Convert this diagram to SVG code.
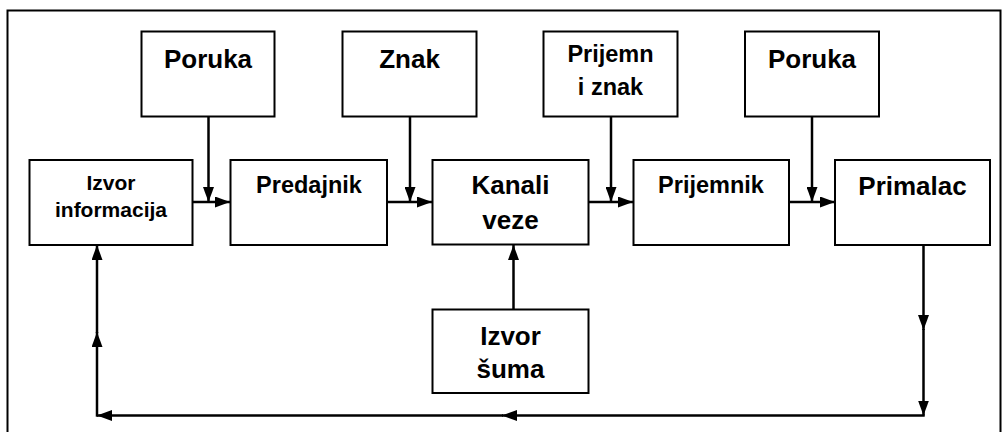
<svg xmlns="http://www.w3.org/2000/svg" width="1002" height="432" viewBox="0 0 1002 432">
<style>
.box{fill:#fff;stroke:#000;stroke-width:2}
.t{font-family:"Liberation Sans",Arial,sans-serif;font-weight:bold;fill:#000;text-anchor:middle}
.l{font-size:26px}
.m{font-size:23.5px}
.s{font-size:21px}
.c{fill:none;stroke:#000;stroke-width:2.5;marker-end:url(#ah)}
</style>
<defs>
<marker id="ah" viewBox="0 0 15 11" refX="15" refY="5.5" markerWidth="15" markerHeight="11" markerUnits="userSpaceOnUse" orient="auto">
<path d="M0,0 L15,5.5 L0,11 z" fill="#000"/>
</marker>
</defs>
<rect x="7.5" y="10.5" width="993" height="430" fill="#fff" stroke="#000" stroke-width="2"/>
<g id="connectors">
<path class="c" d="M185,202 H230"/>
<path class="c" d="M208.5,116.5 V202"/>
<path class="c" d="M387,202 H432"/>
<path class="c" d="M410,116.5 V202"/>
<path class="c" d="M588,202 H633"/>
<path class="c" d="M611,116.5 V202"/>
<path class="c" d="M788,202 H835"/>
<path class="c" d="M812,116.5 V202"/>
<path class="c" d="M513.5,309.5 V245"/>
<path class="c" d="M923.5,245 V330"/>
<path class="c" d="M923.5,329 V415.5"/>
<path class="c" d="M924.7,415.5 H502"/>
<path class="c" d="M503,415.5 H97"/>
<path class="c" d="M97,416.7 V332"/>
<path class="c" d="M97,333 V245"/>
</g>
<g id="poruka1"><rect class="box" x="141.5" y="31.5" width="133" height="85"/><text class="t l" x="208" y="68">Poruka</text></g>
<g id="znak"><rect class="box" x="342.5" y="31.5" width="134" height="85"/><text class="t l" x="409.5" y="68">Znak</text></g>
<g id="prijemni-znak"><rect class="box" x="543.5" y="31.5" width="134" height="85"/><text class="t m" x="610.5" y="62">Prijemn</text><text class="t m" x="610.5" y="95">i znak</text></g>
<g id="poruka2"><rect class="box" x="745" y="31.5" width="134" height="85"/><text class="t l" x="812" y="68">Poruka</text></g>
<g id="izvor-informacija"><rect class="box" x="29.5" y="160" width="163" height="85"/><text class="t s" x="111" y="190">Izvor</text><text class="t s" x="111" y="217">informacija</text></g>
<g id="predajnik"><rect class="box" x="230.5" y="160" width="156.5" height="85"/><text class="t m" x="309" y="193">Predajnik</text></g>
<g id="kanali-veze"><rect class="box" x="432.5" y="160" width="156" height="84.5"/><text class="t l" x="510.5" y="194">Kanali</text><text class="t l" x="510.5" y="229">veze</text></g>
<g id="prijemnik"><rect class="box" x="633.5" y="160" width="155.5" height="85"/><text class="t m" x="711" y="193">Prijemnik</text></g>
<g id="primalac"><rect class="box" x="835" y="160" width="155" height="85"/><text class="t l" x="912.5" y="195">Primalac</text></g>
<g id="izvor-suma"><rect class="box" x="432.5" y="309.5" width="156" height="83.5"/><text class="t l" x="510.5" y="345">Izvor</text><text class="t l" x="510.5" y="378">šuma</text></g>
</svg>
